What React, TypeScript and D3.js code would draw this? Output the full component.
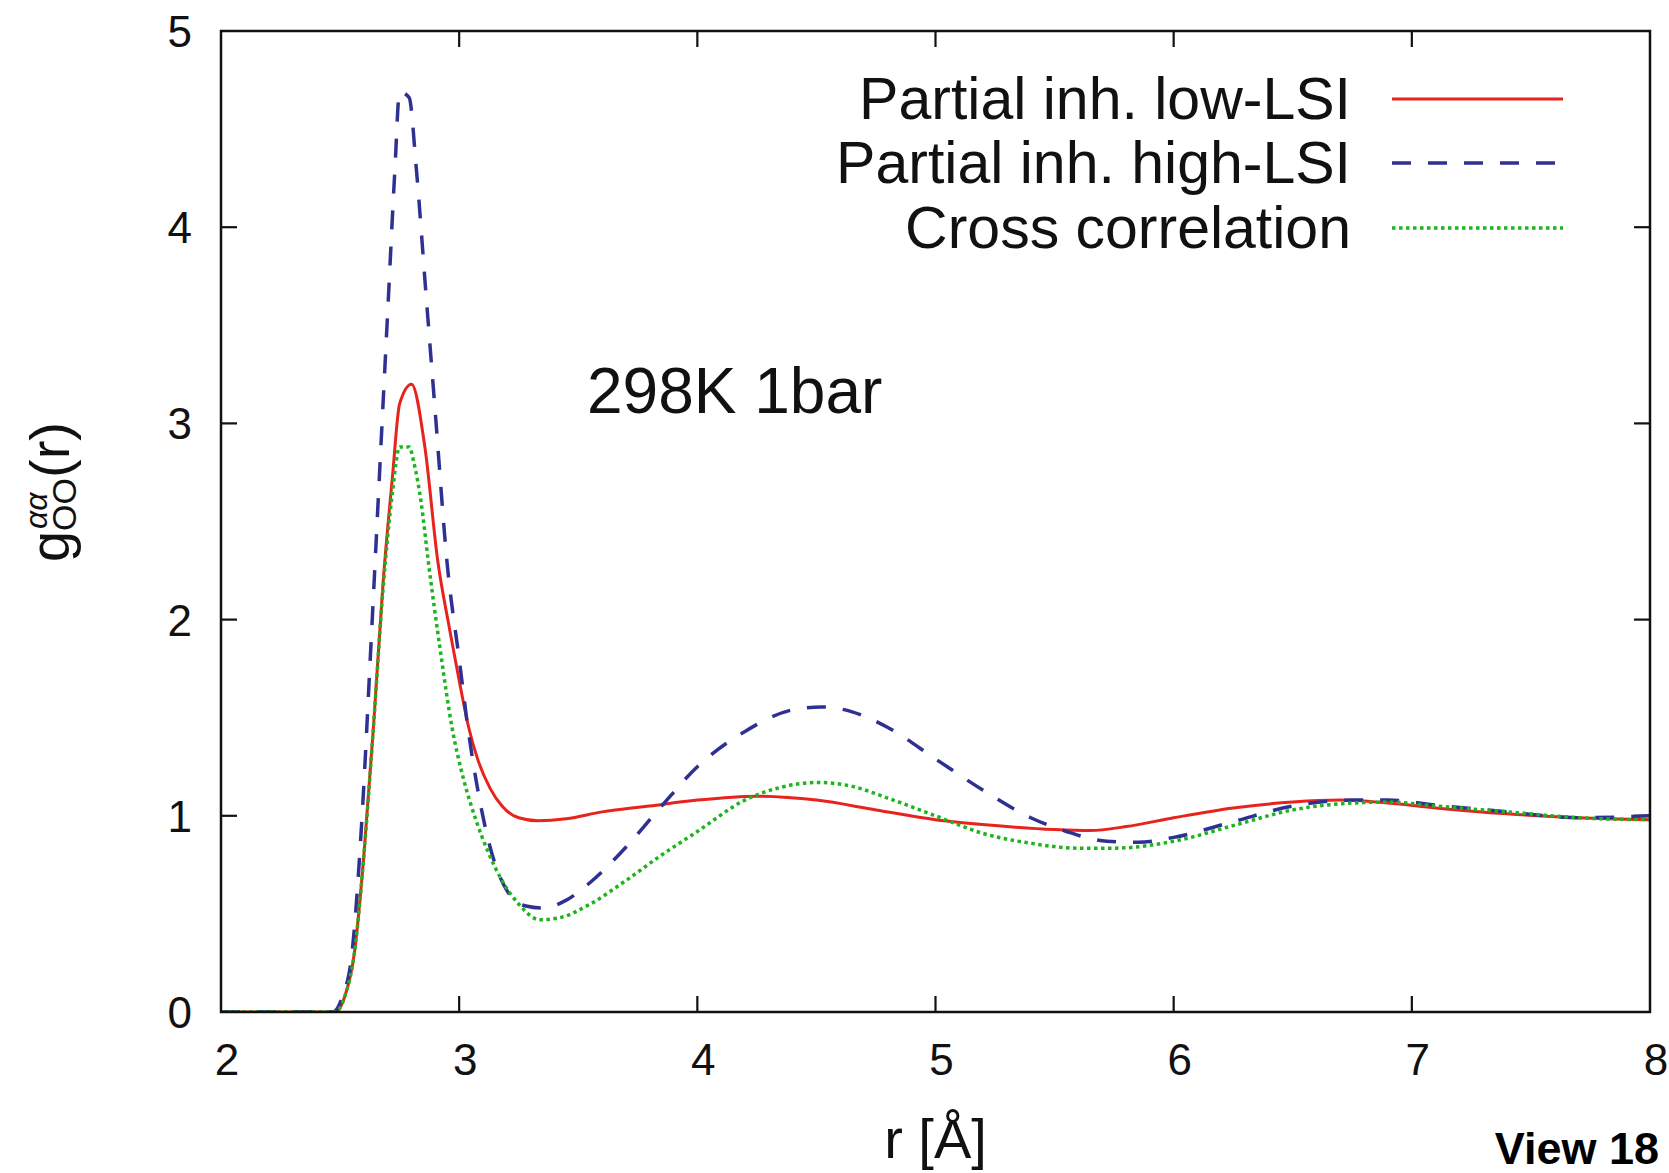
import React from 'react';
import * as d3 from 'd3';

// pair distribution functions (r in Å, g(r))
const rLow = [2.0, 2.48, 2.52, 2.56, 2.6, 2.64, 2.68, 2.72, 2.75, 2.8, 2.856, 2.91, 2.96, 3.0, 3.04, 3.08, 3.13, 3.18, 3.25, 3.33, 3.45, 3.6, 3.8, 4.0, 4.25, 4.5, 4.75, 5.0, 5.25, 5.5, 5.65, 5.8, 6.0, 6.25, 6.5, 6.7, 6.9, 7.1, 7.4, 7.7, 8.0];
const gLow = [0, 0, 0.08, 0.3, 0.8, 1.45, 2.18, 2.73, 3.1, 3.2, 2.88, 2.3, 1.95, 1.69, 1.45, 1.28, 1.14, 1.05, 0.99, 0.975, 0.985, 1.02, 1.05, 1.08, 1.1, 1.08, 1.03, 0.98, 0.95, 0.93, 0.925, 0.945, 0.99, 1.04, 1.07, 1.08, 1.065, 1.04, 1.01, 0.99, 0.98];

const rHigh = [2.0, 2.47, 2.51, 2.55, 2.59, 2.63, 2.67, 2.7, 2.73, 2.75, 2.79, 2.82, 2.86, 2.9, 2.95, 3.0, 3.04, 3.08, 3.13, 3.2, 3.28, 3.35, 3.45, 3.55, 3.7, 3.85, 4.0, 4.2, 4.4, 4.52, 4.65, 4.8, 5.0, 5.2, 5.4, 5.55, 5.72, 5.85, 6.0, 6.25, 6.5, 6.75, 6.9, 7.1, 7.4, 7.7, 8.0];
const gHigh = [0, 0, 0.08, 0.3, 0.95, 1.88, 2.85, 3.57, 4.29, 4.69, 4.66, 4.3, 3.67, 3.05, 2.28, 1.8, 1.42, 1.12, 0.84, 0.62, 0.54, 0.53, 0.57, 0.66, 0.84, 1.05, 1.25, 1.43, 1.54, 1.555, 1.53, 1.45, 1.29, 1.13, 0.99, 0.92, 0.87, 0.865, 0.89, 0.97, 1.05, 1.08, 1.08, 1.055, 1.02, 0.99, 1.0];

const rCross = [2.0, 2.48, 2.52, 2.56, 2.6, 2.64, 2.68, 2.72, 2.75, 2.79, 2.81, 2.84, 2.87, 2.92, 2.97, 3.02, 3.07, 3.12, 3.18, 3.25, 3.34, 3.42, 3.55, 3.7, 3.85, 4.0, 4.2, 4.35, 4.5, 4.65, 4.8, 5.0, 5.2, 5.4, 5.6, 5.75, 6.0, 6.25, 6.5, 6.75, 6.9, 7.1, 7.4, 7.7, 8.0];
const gCross = [0, 0, 0.08, 0.3, 0.8, 1.45, 2.15, 2.65, 2.88, 2.88, 2.8, 2.6, 2.3, 1.85, 1.45, 1.18, 0.98, 0.82, 0.67, 0.55, 0.47, 0.48, 0.55, 0.67, 0.8, 0.92, 1.08, 1.145, 1.17, 1.15, 1.09, 1.0, 0.91, 0.86, 0.835, 0.835, 0.87, 0.95, 1.03, 1.065, 1.07, 1.05, 1.02, 0.99, 0.98];

const seriesNames = ['Partial inh. low-LSI', 'Partial inh. high-LSI', 'Cross correlation'];
const xTicks = [2, 3, 4, 5, 6, 7, 8];
const yTicks = [0, 1, 2, 3, 4, 5];

const W = 1669;
const H = 1173;
const left = 221, right = 1650, top = 31, bottom = 1012;
const font = '"Liberation Sans", Arial, Helvetica, sans-serif';

export default function App() {
  const x = d3.scaleLinear().domain([2, 8]).range([left, right]);
  const y = d3.scaleLinear().domain([0, 5]).range([bottom, top]);

  const line = d3.line<[number, number]>()
    .x(d => x(d[0]))
    .y(d => y(d[1]))
    .curve(d3.curveMonotoneX);

  const zip = (a: number[], b: number[]) => a.map((v, i) => [v, b[i]] as [number, number]);

  const series = [
    { name: seriesNames[0], d: zip(rLow, gLow), color: '#e8221c', width: 3, dash: undefined },
    { name: seriesNames[1], d: zip(rHigh, gHigh), color: '#2e3192', width: 3.5, dash: '19,17' },
    { name: seriesNames[2], d: zip(rCross, gCross), color: '#1db51d', width: 3.5, dash: '3.5,3.5' },
  ];

  const tickLen = 16;
  const legendY = [99, 163, 228];

  return (
    <svg width={W} height={H} style={{ position: 'absolute', left: 0, top: 0, background: '#fff' }}
      fontFamily={font}>
      <defs>
        <clipPath id="plot">
          <rect x={left} y={top} width={right - left} height={bottom - top} />
        </clipPath>
      </defs>

      {/* ticks, mirrored on all four sides */}
      <g stroke="#111" strokeWidth={2.2}>
        {xTicks.slice(1, -1).map(t => (
          <g key={'xt' + t}>
            <line x1={x(t)} x2={x(t)} y1={bottom} y2={bottom - tickLen} />
            <line x1={x(t)} x2={x(t)} y1={top} y2={top + tickLen} />
          </g>
        ))}
        {yTicks.slice(1, -1).map(t => (
          <g key={'yt' + t}>
            <line x1={left} x2={left + tickLen} y1={y(t)} y2={y(t)} />
            <line x1={right} x2={right - tickLen} y1={y(t)} y2={y(t)} />
          </g>
        ))}
      </g>

      {/* tick labels */}
      <g fontSize={44} fill="#111">
        {xTicks.map(t => (
          <text key={'xl' + t} x={x(t) + 6} y={1075} textAnchor="middle">{t}</text>
        ))}
        {yTicks.map(t => (
          <text key={'yl' + t} x={192} y={y(t) + 16} textAnchor="end">{t}</text>
        ))}
      </g>

      {/* curves */}
      <g clipPath="url(#plot)" fill="none">
        {series.map(s => (
          <path key={s.name} d={line(s.d) || ''} stroke={s.color} strokeWidth={s.width}
            strokeDasharray={s.dash} strokeLinejoin="round" />
        ))}
      </g>

      {/* frame */}
      <rect x={left} y={top} width={right - left} height={bottom - top} fill="none" stroke="#111" strokeWidth={2.5} />

      {/* legend */}
      <g fontSize={59} fill="#111">
        {series.map((s, i) => (
          <g key={'lg' + i}>
            <text x={1351} y={legendY[i] + 20} textAnchor="end">{s.name}</text>
            <line x1={1392} x2={1563} y1={legendY[i]} y2={legendY[i]} stroke={s.color}
              strokeWidth={s.width} strokeDasharray={s.dash} />
          </g>
        ))}
      </g>

      <text x={587} y={413} fontSize={64} fill="#111">298K 1bar</text>

      {/* axis titles */}
      <text x={(left + right) / 2} y={1158} fontSize={56} textAnchor="middle" fill="#111">r [Å]</text>
      <g transform="translate(69, 494) rotate(-90)" fill="#111">
        <text x={-68} y={0} fontSize={56}>g</text>
        <text x={-37} y={7} fontSize={34}>OO</text>
        <text x={-35} y={-22} fontSize={32} fontStyle="italic">αα</text>
        <text x={16} y={0} fontSize={56}>(r)</text>
      </g>

      <text x={1659} y={1164} fontSize={45} fontWeight="bold" textAnchor="end" fill="#000">View 18</text>
    </svg>
  );
}
